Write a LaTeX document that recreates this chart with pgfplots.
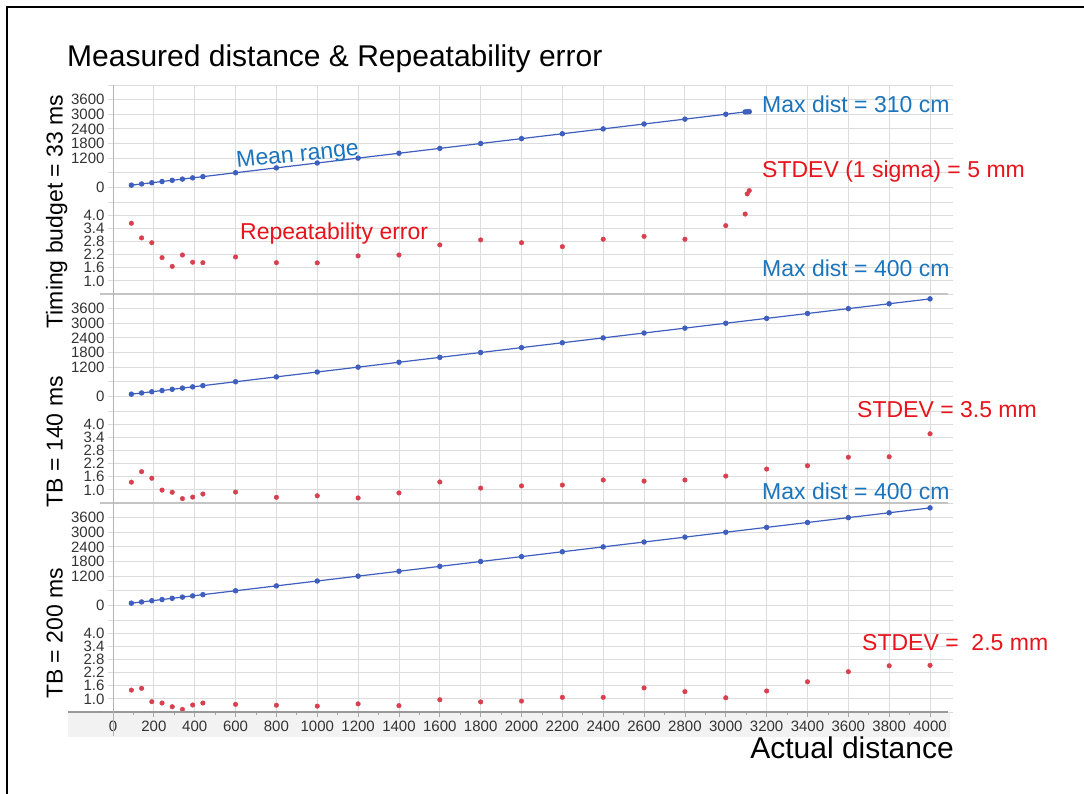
\documentclass[border=0pt]{standalone}
\usepackage{pgfplots}
\pgfplotsset{compat=1.18}
\usepackage{fontspec}
\setmainfont{Liberation Sans}
\definecolor{gridc}{HTML}{DCDCDC}
\definecolor{sepc}{HTML}{C4C4C4}
\definecolor{linec}{HTML}{3F5FBF}
\definecolor{ptred}{HTML}{D9404F}
\definecolor{txtblue}{HTML}{1C75BC}
\definecolor{txtred}{HTML}{E8141C}
\definecolor{tickc}{HTML}{333333}
\pgfplotsset{
 panel/.style={
  scale only axis, width=835pt, xmin=0, xmax=4088,
  axis line style={draw=none},
  xtick={0,200,...,4000}, xticklabels={}, xtick style={draw=none},
  grid=major, major grid style={gridc, line width=0.9pt},
  tick align=outside, ytick style={gridc, line width=0.9pt}, major tick length=5pt,
  tick label style={font=\fontsize{15}{15}\selectfont, text=tickc},
  /pgf/number format/assume math mode=true,
  extra tick style={grid=major},
  clip=false,
 },
 meanp/.style={panel, height=117pt, ymin=-600, ymax=4200,
   ytick={0,1200,1800,2400,3000,3600},
   extra y ticks={-600,600,4200}, extra y tick labels={},
   yticklabel style={/pgf/number format/1000 sep={}}},
 errp/.style={panel, height=92pt, ymin=0.4, ymax=4.6,
   ytick={1.0,1.6,2.2,2.8,3.4,4.0}, extra y ticks={0.4,4.6}, extra y tick labels={},
   yticklabel style={/pgf/number format/.cd, fixed, fixed zerofill, precision=1}},
 meanline/.style={linec, line width=1.2pt, mark=*, mark size=2.1pt, mark options={fill=linec, draw=linec}},
 errpts/.style={only marks, mark=*, mark size=2.3pt, mark options={fill=ptred, draw=ptred}},
}
\begin{document}
\begin{tikzpicture}
\path[use as bounding box] (0,0) rectangle (1084pt,-794pt);
\fill[white] (0,0) rectangle (1084pt,-794pt);
\fill[black!5] (68pt,-712pt) rectangle (950pt,-737pt);
% ---- TB = 33 ms ----
\begin{axis}[meanp, at={(113pt,-202pt)}, anchor=south west]
\addplot[meanline] coordinates {(90,90)(140,140)(190,190)(240,240)(290,290)(340,340)(390,390)(440,440)(600,600)(800,800)(1000,1000)(1200,1200)(1400,1400)(1600,1600)(1800,1800)(2000,2000)(2200,2200)(2400,2400)(2600,2600)(2800,2800)(3000,3000)(3095,3095)(3105,3100)(3115,3105)};
\end{axis}
\begin{axis}[errp, at={(113pt,-294pt)}, anchor=south west]
\addplot[errpts] coordinates {(90,3.63)(140,2.96)(190,2.74)(240,2.06)(290,1.66)(340,2.18)(390,1.85)(440,1.83)(600,2.09)(800,1.83)(1000,1.82)(1200,2.14)(1400,2.18)(1600,2.64)(1800,2.87)(2000,2.74)(2200,2.56)(2400,2.90)(2600,3.03)(2800,2.90)(3000,3.52)(3095,4.05)(3105,4.97)(3115,5.12)};
\end{axis}
% ---- TB = 140 ms ----
\begin{axis}[meanp, at={(113pt,-411pt)}, anchor=south west]
\addplot[meanline] coordinates {(90,90)(140,140)(190,190)(240,240)(290,290)(340,340)(390,390)(440,440)(600,600)(800,800)(1000,1000)(1200,1200)(1400,1400)(1600,1600)(1800,1800)(2000,2000)(2200,2200)(2400,2400)(2600,2600)(2800,2800)(3000,3000)(3200,3200)(3400,3400)(3600,3600)(3800,3800)(4000,4000)};
\end{axis}
\begin{axis}[errp, at={(113pt,-503pt)}, anchor=south west]
\addplot[errpts] coordinates {(90,1.35)(140,1.83)(190,1.53)(240,0.99)(290,0.89)(340,0.60)(390,0.67)(440,0.81)(600,0.90)(800,0.66)(1000,0.73)(1200,0.63)(1400,0.86)(1600,1.36)(1800,1.08)(2000,1.18)(2200,1.22)(2400,1.45)(2600,1.40)(2800,1.45)(3000,1.63)(3200,1.95)(3400,2.10)(3600,2.49)(3800,2.51)(4000,3.56)};
\end{axis}
% ---- TB = 200 ms ----
\begin{axis}[meanp, at={(113pt,-620pt)}, anchor=south west]
\addplot[meanline] coordinates {(90,90)(140,140)(190,190)(240,240)(290,290)(340,340)(390,390)(440,440)(600,600)(800,800)(1000,1000)(1200,1200)(1400,1400)(1600,1600)(1800,1800)(2000,2000)(2200,2200)(2400,2400)(2600,2600)(2800,2800)(3000,3000)(3200,3200)(3400,3400)(3600,3600)(3800,3800)(4000,4000)};
\end{axis}
\begin{axis}[errp, at={(113pt,-712pt)}, anchor=south west,
  xticklabels={0,200,400,600,800,1000,1200,1400,1600,1800,2000,2200,2400,2600,2800,3000,3200,3400,3600,3800,4000},
  xtick pos=bottom,
  xtick style={draw=black!35, line width=0.8pt}, minor x tick num=1, minor tick length=3pt]
\addplot[errpts] coordinates {(90,1.40)(140,1.48)(190,0.87)(240,0.81)(290,0.64)(340,0.52)(390,0.72)(440,0.81)(600,0.75)(800,0.71)(1000,0.67)(1200,0.77)(1400,0.69)(1600,0.96)(1800,0.86)(2000,0.90)(2200,1.07)(2400,1.07)(2600,1.50)(2800,1.33)(3000,1.05)(3200,1.36)(3400,1.78)(3600,2.24)(3800,2.51)(4000,2.53)};
\end{axis}
% separators and axes
\draw[sepc, line width=1.6pt] (100pt,-294pt) -- (948pt,-294pt);
\draw[sepc, line width=1.6pt] (100pt,-503pt) -- (948pt,-503pt);
\draw[black!40, line width=1.4pt] (68pt,-712pt) -- (948pt,-712pt);
\draw[black!30, line width=1pt] (113pt,-85pt) -- (113pt,-736pt);
% frame
\draw[black, line width=2pt] (7pt,-794pt) -- (7pt,-6.7pt) -- (1090pt,-6.7pt);
% texts
\node[anchor=base west, inner sep=0pt, font=\fontsize{30}{30}\selectfont] at (67pt,-67pt) {Measured distance \& Repeatability error};
\node[anchor=base west, inner sep=0pt, rotate=6, text=txtblue, font=\fontsize{23}{23}\selectfont] at (237pt,-168pt) {Mean range};
\node[anchor=base west, inner sep=0pt, text=txtred, font=\fontsize{23}{23}\selectfont] at (240pt,-239.5pt) {Repeatability error};
\node[anchor=base west, inner sep=0pt, text=txtblue, font=\fontsize{23}{23}\selectfont] at (762pt,-113pt) {Max dist = 310 cm};
\node[anchor=base west, inner sep=0pt, text=txtred, font=\fontsize{23}{23}\selectfont] at (762pt,-177.5pt) {STDEV (1 sigma) = 5 mm};
\node[anchor=base west, inner sep=0pt, text=txtblue, font=\fontsize{23}{23}\selectfont] at (762pt,-276.5pt) {Max dist = 400 cm};
\node[anchor=base west, inner sep=0pt, text=txtred, font=\fontsize{23}{23}\selectfont] at (857pt,-417.3pt) {STDEV = 3.5 mm};
\node[anchor=base west, inner sep=0pt, text=txtblue, font=\fontsize{23}{23}\selectfont] at (762pt,-499.3pt) {Max dist = 400 cm};
\node[anchor=base west, inner sep=0pt, text=txtred, font=\fontsize{23}{23}\selectfont] at (862pt,-650.7pt) {STDEV =\ \ 2.5 mm};
\node[anchor=base, inner sep=0pt, rotate=90, font=\fontsize{23}{23}\selectfont] at (62.7pt,-211.5pt) {Timing budget = 33 ms};
\node[anchor=base, inner sep=0pt, rotate=90, font=\fontsize{23}{23}\selectfont] at (62.7pt,-441.7pt) {TB = 140 ms};
\node[anchor=base, inner sep=0pt, rotate=90, font=\fontsize{23}{23}\selectfont] at (62.7pt,-633.3pt) {TB = 200 ms};
\node[anchor=base east, inner sep=0pt, font=\fontsize{30}{30}\selectfont] at (954pt,-758pt) {Actual distance};
\end{tikzpicture}
\end{document}
